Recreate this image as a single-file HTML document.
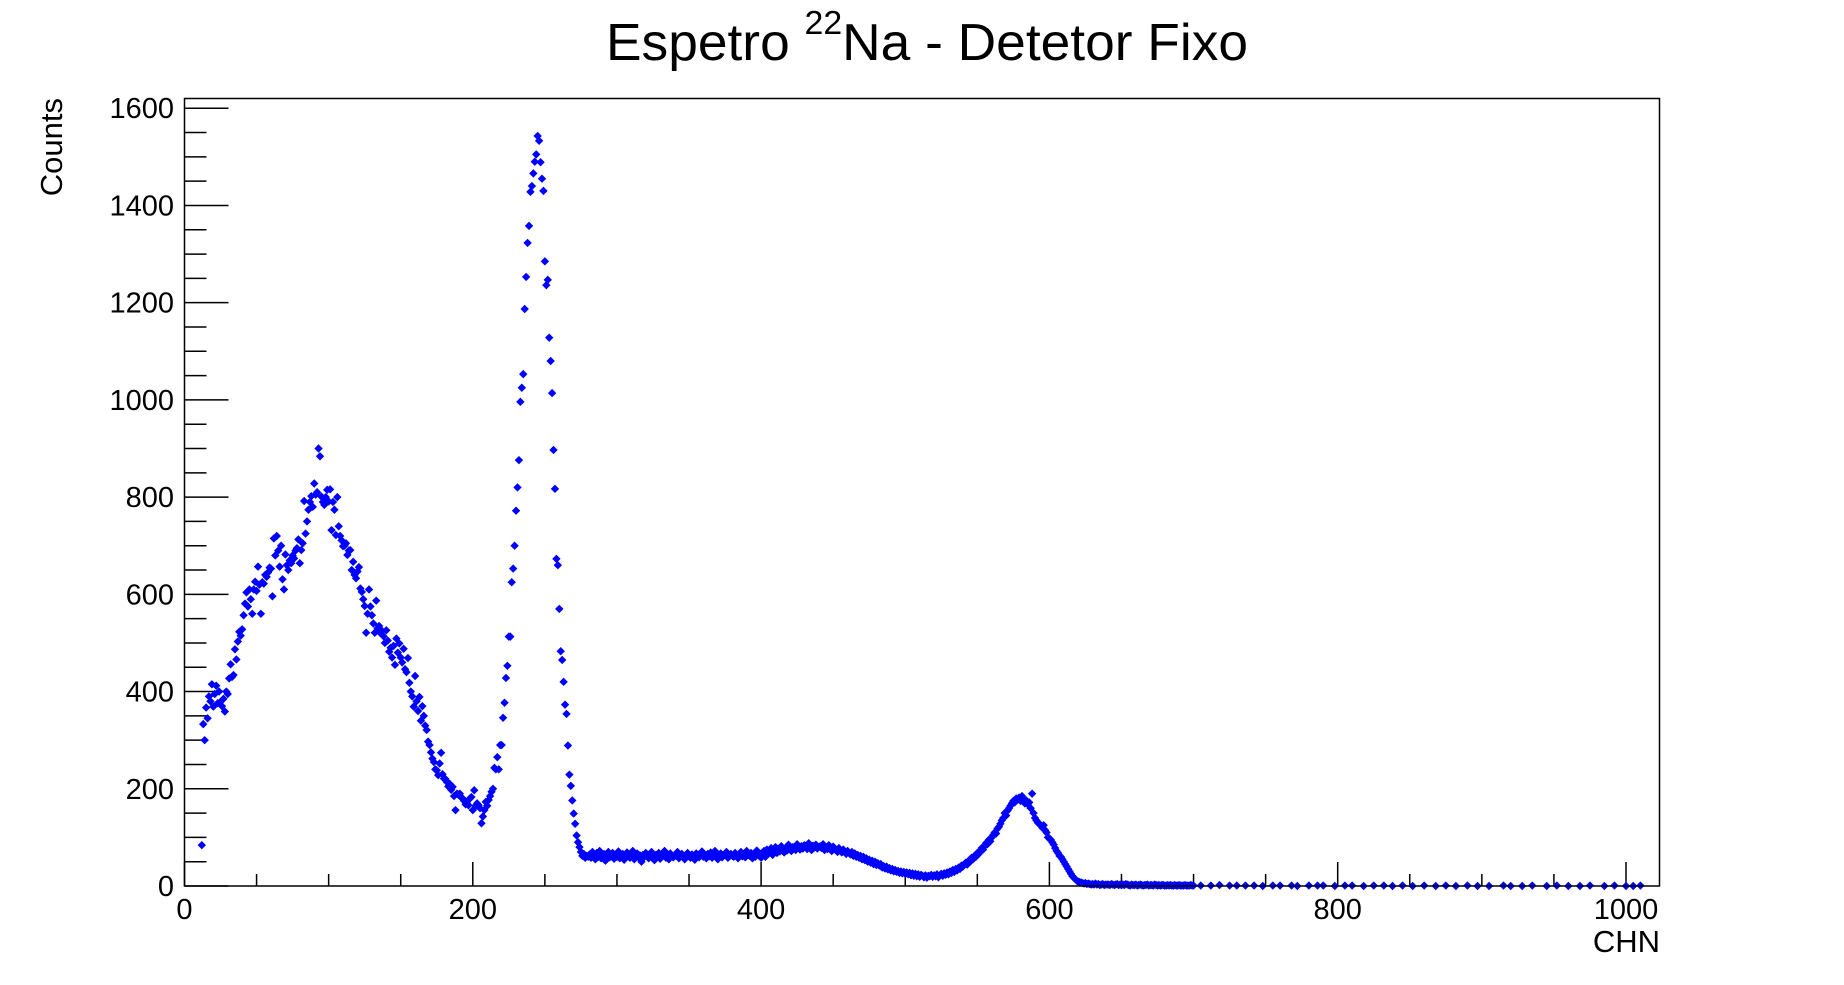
<!DOCTYPE html>
<html><head><meta charset="utf-8"><title>Espetro 22Na - Detetor Fixo</title>
<style>
html,body{margin:0;padding:0;background:#fff;}
svg{display:block;font-family:"Liberation Sans",Arial,sans-serif;}
</style></head>
<body>
<svg id="chart" width="1844" height="985" viewBox="0 0 1844 985" xmlns="http://www.w3.org/2000/svg">
<rect x="0" y="0" width="1844" height="985" fill="#fff"/>
<text x="606" y="60" font-size="52" textLength="642" lengthAdjust="spacingAndGlyphs">Espetro <tspan dy="-26" font-size="33">22</tspan><tspan dy="26">Na - Detetor Fixo</tspan></text>
<text transform="translate(62,98) rotate(-90)" text-anchor="end" font-size="31">Counts</text>
<text x="1660" y="952" text-anchor="end" font-size="31">CHN</text>
<g id="ticks"></g>
<g id="marks" fill="#0000ff"></g>
<rect x="184.5" y="98.5" width="1475" height="787.5" fill="none" stroke="#000" stroke-width="1.5"/>
</svg>
<script>
const startChannel = 12;
const counts = [84,
333,300,367,345,390,380,415,369,
395,412,376,400,379,370,385,359,400,395,
427,456,430,434,487,466,503,523,515,528,
557,581,604,575,610,590,560,610,626,607,
657,620,560,625,622,640,636,645,655,653,
596,715,680,720,690,657,700,631,610,682,
660,650,670,664,680,674,690,695,713,664,
691,705,792,725,750,774,790,802,780,828,
805,810,900,884,801,790,784,800,815,791,
816,732,790,774,722,800,740,720,711,699,
700,705,681,690,691,650,667,640,633,647,
656,612,605,590,576,521,560,610,575,557,
540,521,587,530,535,520,525,514,500,526,
505,482,490,470,494,455,509,480,499,470,
460,488,446,440,469,418,400,390,369,432,
380,360,389,340,370,350,330,321,297,290,
275,262,255,240,238,228,252,274,230,221,
220,214,205,210,198,204,185,156,190,188,
190,182,180,175,168,170,166,180,183,156,
197,165,170,166,160,129,143,156,173,165,
177,185,194,200,243,240,265,240,290,290,
346,377,428,453,513,513,625,653,700,772,
820,876,996,1025,1053,1187,1253,1323,1358,1428,
1440,1466,1490,1505,1543,1533,1489,1455,1430,1285,
1236,1247,1128,1080,1014,897,817,673,660,570,
483,465,420,373,354,289,229,206,176,149,
128,104,90,80,70,62,66,58,62,60,
65,58,70,62,55,68,60,72,57,63,66,52,61,70,59,64,68,56,62,60,
71,57,63,66,54,60,69,62,58,65,72,55,61,67,59,63,50,64,60,68,
62,57,66,70,59,53,64,61,68,56,60,65,72,58,62,55,67,63,59,61,
64,70,57,62,66,59,55,63,68,61,58,65,60,54,67,62,59,64,71,60,
63,57,66,61,69,58,64,72,60,55,62,67,59,63,65,70,58,61,66,62,
60,68,64,57,63,70,61,66,59,72,64,62,68,57,65,60,73,66,62,58,
68,72,60,75,66,70,78,64,73,80,68,75,71,82,74,69,77,73,85,76,
72,80,78,74,86,79,75,82,77,84,80,76,88,81,74,83,79,85,77,80,
82,78,86,74,80,76,84,79,72,81,77,75,70,78,73,69,75,71,66,72,
68,65,70,62,67,60,64,58,62,55,60,53,57,50,54,48,52,45,50,43,
47,42,45,38,41,36,40,34,37,32,35,30,33,29,31,27,30,26,29,25,
28,24,27,22,26,21,25,20,24,19,23,21,18,22,17,21,20,23,19,22,
20,24,18,22,25,21,26,23,28,24,30,27,33,29,35,32,38,35,42,40,
45,48,44,52,50,58,55,62,60,68,66,72,78,75,82,88,86,95,92,100,
105,110,108,118,122,128,135,140,150,145,155,160,165,170,175,172,180,178,182,175,
185,178,170,176,168,172,160,190,150,140,135,130,128,125,120,125,115,110,100,98,
95,90,85,78,72,68,62,60,55,50,45,40,35,30,25,20,17,14,11,9,
8,7,6,5,6,4,5,4,3,4,3,5,3,4,2,3,4,2,3,3,
3,2,4,3,2,3,4,2,3,2,3,2,4,3,2,1,3,2,2,3,1,2,3,2,1,2,2,3,1,2,
2,1,3,2,1,2,1,2,2,1,1,2,1,2,1,1,2,1,1,2,1,1,1,2,1,1,1,2,1,1];
const tailChannels = [705,712,718,725,730,736,742,748,755,760,768,772,780,786,790,798,805,810,818,825,832,838,845,852,860,868,875,882,890,897,905,915,920,928,935,945,952,960,968,975,985,992,1000,1005,1010];
const tailCounts = [1,1,2,1,1,1,1,0,1,1,1,0,1,1,1,0,1,1,0,1,1,0,1,0,1,0,1,0,1,0,0,1,0,0,1,0,1,0,0,1,0,1,0,0,1];
const xTicks = [0,200,400,600,800,1000];
const yTicks = [0,200,400,600,800,1000,1200,1400,1600];

const NS = "http://www.w3.org/2000/svg";
const X0 = 184.5, PXPERCH = 1.4415, Y0 = 886, PXPERCOUNT = 0.4861;
function xs(ch){ return X0 + ch * PXPERCH; }
function ys(v){ return Y0 - v * PXPERCOUNT; }

const marks = document.getElementById('marks');
function dot(ch, v){
  const p = document.createElementNS(NS, 'path');
  const x = xs(ch), y = ys(v);
  p.setAttribute('d', 'M' + x + ' ' + (y - 4.2) + 'L' + (x + 4.2) + ' ' + y + 'L' + x + ' ' + (y + 4.2) + 'L' + (x - 4.2) + ' ' + y + 'Z');
  
  
  marks.appendChild(p);
}
counts.forEach((v, i) => dot(startChannel + i, v));
tailChannels.forEach((c, i) => dot(c, tailCounts[i]));

const tg = document.getElementById('ticks');
function line(x1, y1, x2, y2, name){
  const l = document.createElementNS(NS, 'line');
  l.setAttribute('x1', x1); l.setAttribute('y1', y1);
  l.setAttribute('x2', x2); l.setAttribute('y2', y2);
  l.setAttribute('stroke', '#000'); l.setAttribute('stroke-width', '1.5');
  
  
  tg.appendChild(l);
}
function label(x, y, s, anchor, name){
  const t = document.createElementNS(NS, 'text');
  t.setAttribute('x', x); t.setAttribute('y', y);
  t.setAttribute('text-anchor', anchor);
  t.setAttribute('font-size', '29');
  t.textContent = s;
  
  
  tg.appendChild(t);
}
for (let c = 0; c <= 1000; c += 50) {
  const major = c % 200 === 0;
  line(xs(c), Y0, xs(c), Y0 - (major ? 24 : 12), 'x-tick');
}
xTicks.forEach(c => label(xs(c), 919, String(c), 'middle', 'x-tick-label'));
for (let v = 0; v <= 1600; v += 50) {
  const major = v % 200 === 0;
  line(X0, ys(v), X0 + (major ? 44 : 22), ys(v), 'y-tick');
}
yTicks.forEach(v => label(174, ys(v) + 10, String(v), 'end', 'y-tick-label'));
</script>
</body></html>
